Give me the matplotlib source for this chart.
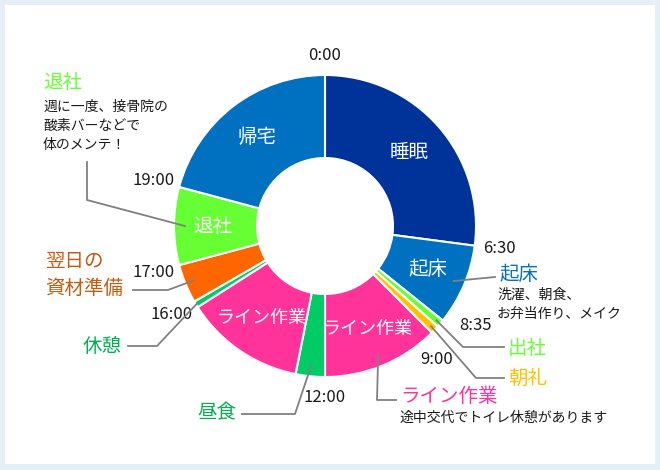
import math

import matplotlib.pyplot as plt
from matplotlib.patches import Rectangle

plt.rcParams['font.family'] = ['Noto Sans CJK JP', 'DejaVu Sans']

# one day, hours spent in each activity, clockwise from 0:00
activities = ['睡眠', '起床', '出社', '朝礼', 'ライン作業', '昼食', 'ライン作業',
              '休憩', '翌日の資材準備', '退社', '帰宅']
hours = [6.5, 2.0833, 0.2, 0.2167, 3.0, 0.75, 3.0833, 0.1667, 1.0, 2.0, 5.0]
colors = ['#003399', '#0070C0', '#66FF33', '#FFC000', '#FF3399', '#00CC66',
          '#FF3399', '#00CC66', '#FF6600', '#66FF33', '#0070C0']

# times written round the ring
tick_hours = [0, 6.5, 8.5833, 9, 12, 16, 17, 19]
tick_labels = ['0:00', '6:30', '8:35', '9:00', '12:00', '16:00', '17:00', '19:00']

# names written inside the ring (index into activities)
inner_names = [0, 1, 4, 6, 9, 10]

# callouts: index, title, colour, note lines
callouts = [
    (9, '退社', '#66FF33', ['週に一度、接骨院の', '酸素バーなどで', '体のメンテ！']),
    (8, '翌日の\n資材準備', '#C55A11', []),
    (7, '休憩', '#00B050', []),
    (5, '昼食', '#00B050', []),
    (4, 'ライン作業', '#FF3399', ['途中交代でトイレ休憩があります']),
    (1, '起床', '#0070C0', ['洗濯、朝食、', 'お弁当作り、メイク']),
    (2, '出社', '#66FF33', []),
    (3, '朝礼', '#FFC000', []),
]

# ---------------------------------------------------------------------------
W, H = 660, 470
CX, CY = 325, 226
R_OUT, R_IN = 151, 68

# tick label placement: (shift along the ring in hours, distance from centre)
tick_place = [(0, 171), (0, 176), (-0.35, 181), (0.33, 174), (0, 171),
              (0, 177), (0, 178), (0, 177)]

# leader elbows and label anchors (pixels, y down)
layout = {
    9: dict(path=[(87, 200), (87, 162)], title=(43, 83, 'left'), note=(43, 107)),
    8: dict(path=[(168, 290), (133, 290)], title=(45, 275, 'left'), note=None),
    7: dict(path=[(157, 346), (128, 346)], title=(122, 346, 'right'), note=None),
    5: dict(path=[(295, 414), (242, 414)], title=(236, 413, 'right'), note=None),
    4: dict(path=[(377, 400), (396, 400)], title=(400, 397, 'left'), note=(400, 418)),
    1: dict(path=[(495, 277)], title=(499, 275, 'left'), note=(497, 295)),
    2: dict(path=[(463, 347), (504, 347)], title=(508, 348, 'left'), note=None),
    3: dict(path=[(476, 378), (504, 378)], title=(508, 378, 'left'), note=None),
}
start_r = {9: 140, 8: 142, 7: 150, 5: 140, 4: 139, 1: 140, 2: 146, 3: 146}


def point(h, r):
    t = math.radians(h / 24 * 360)
    return CX + r * math.sin(t), CY - r * math.cos(t)


fig = plt.figure(figsize=(6.6, 4.7), dpi=100, facecolor='#E4EFF6')
ax = fig.add_axes([0, 0, 1, 1])
ax.set_facecolor('none')

ax.add_patch(Rectangle((5, 5), 650, 459, facecolor='white', edgecolor='none', zorder=0))

ax.pie(hours, colors=colors, radius=R_OUT, center=(CX, CY), startangle=-90,
       counterclock=True,
       wedgeprops=dict(width=R_OUT - R_IN, edgecolor='white', linewidth=1.5))

ax.set_xlim(0, W)
ax.set_ylim(H, 0)
ax.set_aspect('equal')
ax.axis('off')

starts = [sum(hours[:i]) for i in range(len(hours))]
mids = [s + h / 2 for s, h in zip(starts, hours)]

for h, lab, (dh, r) in zip(tick_hours, tick_labels, tick_place):
    x, y = point(h + dh, r)
    ax.text(x, y, lab, fontsize=12, ha='center', va='center', color='#1a1a1a')

for i in inner_names:
    x, y = point(mids[i], 112)
    size = 13 if len(activities[i]) > 2 else 14
    ax.text(x, y, activities[i], fontsize=size, ha='center', va='center', color='white')

for i, title, col, notes in callouts:
    lay = layout[i]
    sx, sy = point(mids[i], start_r[i])
    xs = [sx] + [p[0] for p in lay['path']]
    ys = [sy] + [p[1] for p in lay['path']]
    ax.plot(xs, ys, color='#808080', lw=1.3, zorder=3)
    tx, ty, ha = lay['title']
    if '\n' in title:
        for k, line in enumerate(title.split('\n')):
            ax.text(tx, ty - 13 + 26 * k, line, fontsize=14, ha=ha, va='center', color=col)
    else:
        ax.text(tx, ty, title, fontsize=14, ha=ha, va='center', color=col)
    if lay['note']:
        nx, ny = lay['note']
        for k, line in enumerate(notes):
            ax.text(nx, ny + 19 * k, line, fontsize=10, ha='left', va='center', color='#1a1a1a')

fig.savefig('out.png', dpi=100, facecolor=fig.get_facecolor())
